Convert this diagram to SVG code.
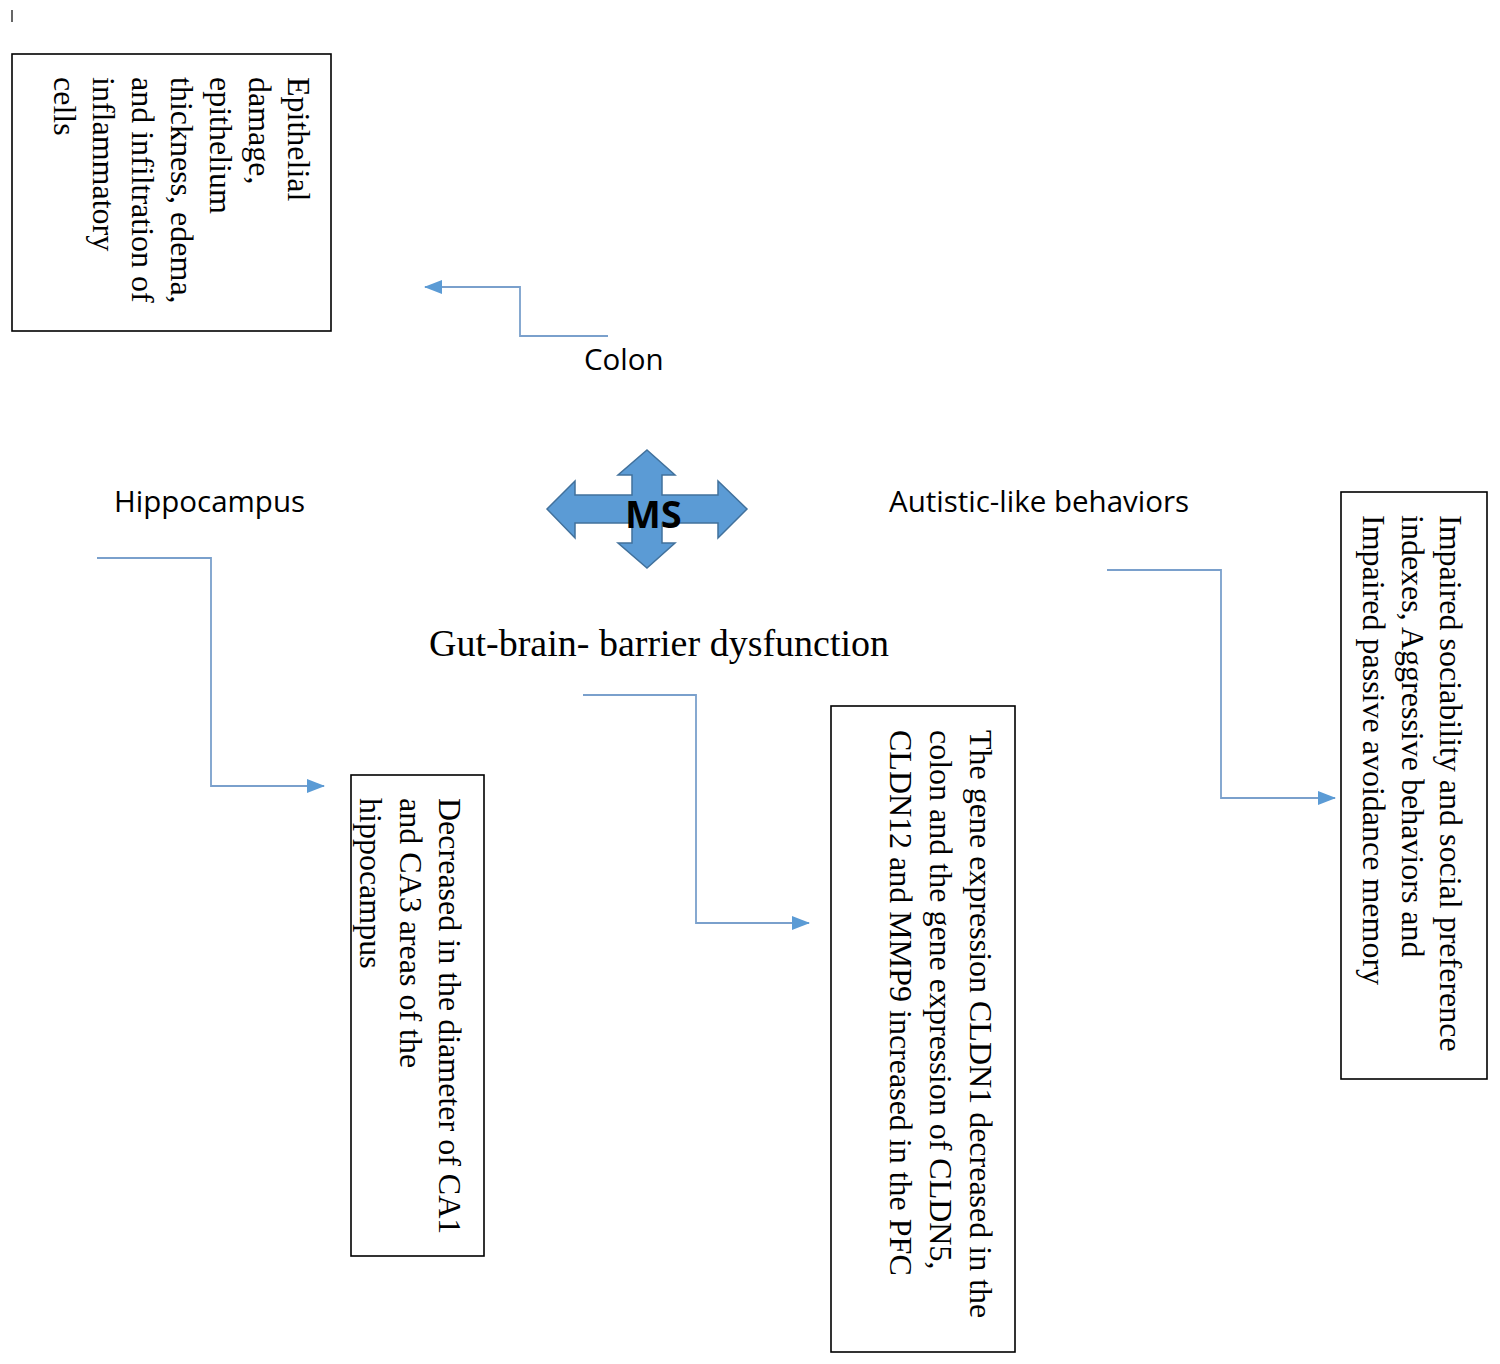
<svg xmlns="http://www.w3.org/2000/svg" width="1500" height="1364" viewBox="0 0 1500 1364">
<style>
.box{fill:#fff;stroke:#000;stroke-width:1.6}
.vt{font-family:"Liberation Serif","Times New Roman",serif;font-size:32px;fill:#000}
.lbl{font-family:"Open Sans","Liberation Sans",sans-serif;font-size:29.5px;fill:#000}
.con{fill:none;stroke:#7aa0cc;stroke-width:1.8}
</style>
<defs>
<marker id="ah2" viewBox="0 0 18 14" refX="17" refY="7" markerWidth="18" markerHeight="14" markerUnits="userSpaceOnUse" orient="auto">
<path d="M0,0 L18,7 L0,14 z" fill="#5b9bd5"/>
</marker>
</defs>
<rect width="1500" height="1364" fill="#fff"/>
<line x1="12" y1="10" x2="12" y2="22" stroke="#000" stroke-width="1.2"/>

<g id="connectors">
<path class="con" d="M608,336 H520 V287 H425" marker-end="url(#ah2)"/>
<path class="con" d="M97,558 H211 V786 H324" marker-end="url(#ah2)"/>
<path class="con" d="M583,695 H696 V923 H809" marker-end="url(#ah2)"/>
<path class="con" d="M1107,570 H1221 V798 H1335" marker-end="url(#ah2)"/>
</g>

<g id="ms">
<polygon points="647,450 675,475 662,475 662,495 718,495 718,481 747,509 718,538 718,523 662,523 662,543 675,543 647,568 618,543 632,543 632,523 575,523 575,538 547,509 575,481 575,495 632,495 632,475 618,475" fill="#5b9bd5" stroke="#41719c" stroke-width="1.5"/>
<text x="625" y="528" font-family="'Open Sans','Liberation Sans',sans-serif" font-weight="bold" font-size="38" fill="#000">MS</text>
</g>

<g id="colon-label"><text class="lbl" x="584" y="370">Colon</text></g>
<g id="hippocampus-label"><text class="lbl" x="114" y="512">Hippocampus</text></g>
<g id="autistic-label"><text class="lbl" x="889" y="512" font-size="30">Autistic-like behaviors</text></g>
<g id="gbb-label"><text x="429" y="656" font-family="'Liberation Serif','Times New Roman',serif" font-size="38" fill="#000">Gut-brain- barrier dysfunction</text></g>

<g id="colon-box">
<rect class="box" x="12" y="54" width="319" height="277"/>
<text class="vt" transform="translate(288,77) rotate(90)">
<tspan x="0" y="0">Epithelial</tspan>
<tspan x="0" dy="39">damage,</tspan>
<tspan x="0" dy="39">epithelium</tspan>
<tspan x="0" dy="39">thickness, edema,</tspan>
<tspan x="0" dy="39">and infiltration of</tspan>
<tspan x="0" dy="39">inflammatory</tspan>
<tspan x="0" dy="39">cells</tspan>
</text>
</g>

<g id="hippocampus-box">
<rect class="box" x="351" y="775" width="133" height="481"/>
<text class="vt" transform="translate(439,798) rotate(90)">
<tspan x="0" y="0">Decreased in the diameter of CA1</tspan>
<tspan x="0" dy="39.5">and CA3 areas of the</tspan>
<tspan x="0" dy="39.5">hippocampus</tspan>
</text>
</g>

<g id="gbb-box">
<rect class="box" x="831" y="706" width="184" height="646"/>
<text class="vt" transform="translate(970,730) rotate(90)">
<tspan x="0" y="0">The gene expression CLDN1 decreased in the</tspan>
<tspan x="0" dy="40">colon and the gene expression of CLDN5,</tspan>
<tspan x="0" dy="40">CLDN12 and MMP9 increased in the PFC</tspan>
</text>
</g>

<g id="autistic-box">
<rect class="box" x="1341" y="492" width="146" height="587"/>
<text class="vt" transform="translate(1440,515) rotate(90)">
<tspan x="0" y="0">Impaired sociability and social preference</tspan>
<tspan x="0" dy="38.5">indexes, Aggressive behaviors and</tspan>
<tspan x="0" dy="38.5">Impaired passive avoidance memory</tspan>
</text>
</g>
</svg>
